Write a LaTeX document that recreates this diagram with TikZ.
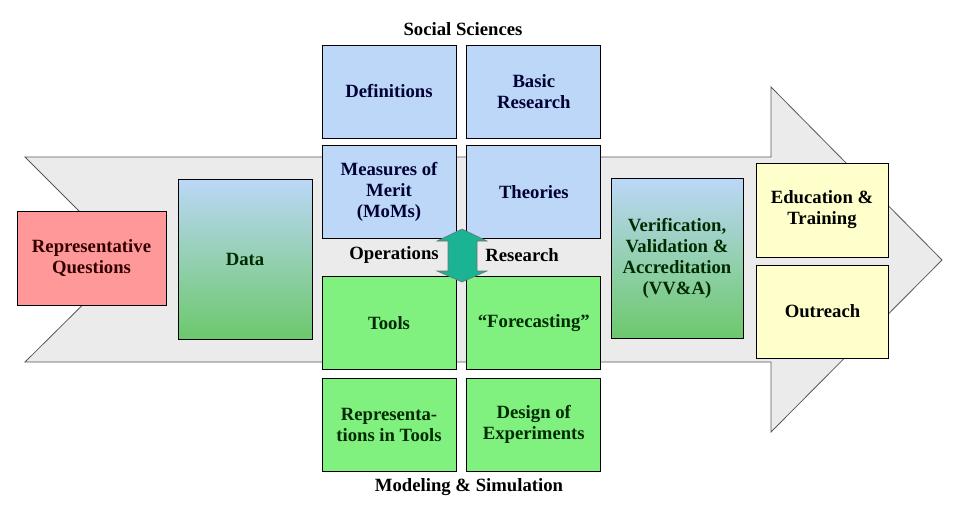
\documentclass[tikz,border=0pt]{standalone}
\usepackage{fontspec}
\setmainfont{Liberation Serif}
\usetikzlibrary{positioning}

\definecolor{arrowgray}{HTML}{EBEBEB}
\definecolor{skyblue}{HTML}{BCD7F8}
\definecolor{leafgreen}{HTML}{80F07F}
\definecolor{fadegreen}{HTML}{6CC86C}
\definecolor{rosered}{HTML}{FF9999}
\definecolor{paleyellow}{HTML}{FFFFCC}
\definecolor{linkteal}{HTML}{1AB394}
\definecolor{navytext}{HTML}{000033}
\definecolor{pinetext}{HTML}{002B00}
\definecolor{wine}{HTML}{330000}

\tikzset{
	box/.style={draw, line width=0.8pt, align=center, inner sep=2pt,
		minimum width=134pt, minimum height=93pt,
		font=\bfseries\fontsize{18.7}{21}\selectfont},
	bluebox/.style={box, fill=skyblue, text=navytext},
	greenbox/.style={box, fill=leafgreen, text=pinetext},
	fadebox/.style={box, top color=skyblue, bottom color=fadegreen, text=pinetext, minimum height=160pt},
	yellowbox/.style={box, fill=paleyellow, minimum width=132pt},
	heading/.style={font=\bfseries\fontsize{18.7}{21}\selectfont}
}

\begin{document}
\begin{tikzpicture}[x=1pt,y=-1pt]
	\useasboundingbox (0,0) rectangle (960,511);
	% big arrow in the back
	\draw[fill=arrowgray, draw=black!65, line width=0.8pt]
	(25,157) -- (771,157) -- (771,87) -- (942,260) -- (771,432)
	-- (771,362) -- (25,362) -- (128,260) -- cycle;
	
	\node[box, fill=rosered, text=wine, minimum width=149pt, minimum height=94pt] (questions) at (91.5,258) {Representative\\Questions};
	\node[fadebox] (data) at (245,259) {Data};
	
	% social sciences / modeling grid
	\node[bluebox] (defs) at (389,91.5) {Definitions};
	\node[bluebox, right=10pt of defs] (basic) {Basic\\Research};
	\node[bluebox, below=7pt of defs] (moms) {Measures of\\Merit\\(MoMs)};
	\node[bluebox, below=7pt of basic] (theories) {Theories};
	\node[greenbox, below=37pt of moms] (tools) {Tools};
	\node[greenbox, below=37pt of theories] (forecast) {“Forecasting”};
	\node[greenbox, below=8pt of tools] (reps) {Representa-\\tions in Tools};
	\node[greenbox, below=8pt of forecast] (doe) {Design of\\Experiments};
	
	\node[heading] (social) at (463,29) {Social Sciences};
	\node[heading] (modsim) at (469,487) {Modeling \& Simulation};
	\node[heading] (ops) at (394,255) {Operations};
	\node[heading] (res) at (522,255) {Research};
	
	% link between the two halves
	\draw[fill=linkteal, draw=black!55, line width=0.6pt]
	(462,229) -- (487,241) -- (477,241) -- (477,271) -- (487,271) -- (462,282)
	-- (437,271) -- (448,271) -- (448,241) -- (437,241) -- cycle;
	
	\node[fadebox, minimum width=132pt] (vva) at (677,258) {Verification,\\Validation \&\\Accreditation\\(VV\&A)};
	\node[yellowbox, minimum height=94pt] (edu) at (822,210) {Education \&\\Training};
	\node[yellowbox] (outreach) at (822.5,311.5) {Outreach};
\end{tikzpicture}
\end{document}
